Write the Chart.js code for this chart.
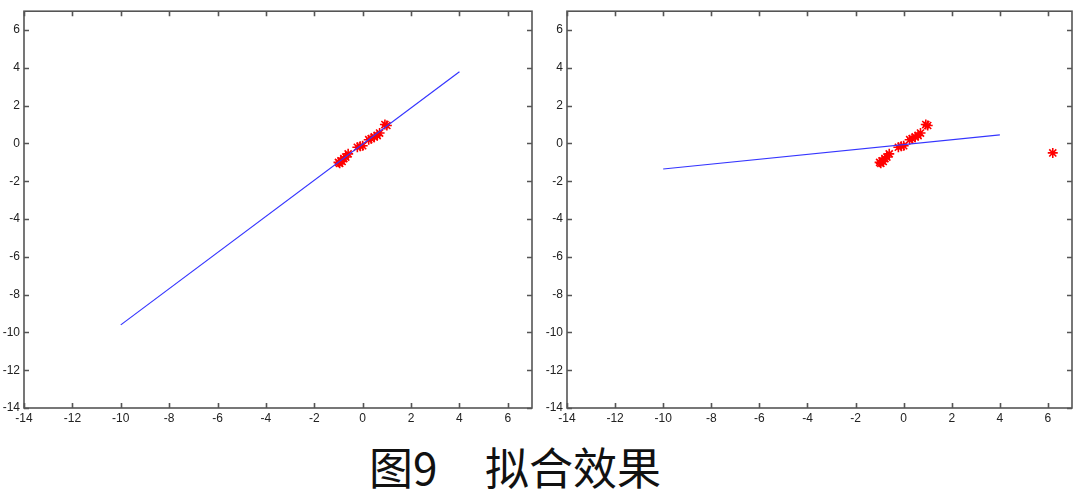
<!DOCTYPE html>
<html>
<head>
<meta charset="utf-8">
<script src="https://cdn.jsdelivr.net/npm/chart.js@4"></script>
<style>
  body { margin: 0; background: #fff; width: 1080px; height: 491px; overflow: hidden; position: relative; }
  .plot { position: absolute; top: 0; width: 540px; height: 430px; }
  #left-box { left: 0; }
  #right-box { left: 540px; }
  .caption { position: absolute; top: 444px; height: 44px; line-height: 44px;
    font-family: "Noto Sans CJK SC", sans-serif; font-size: 44px; color: #111; white-space: nowrap; }
</style>
</head>
<body>
<div class="plot" id="left-box"><canvas id="left-chart" width="540" height="430"></canvas></div>
<div class="plot" id="right-box"><canvas id="right-chart" width="540" height="430"></canvas></div>
<div class="caption" style="left:369px">图9</div>
<div class="caption" style="left:485px">拟合效果</div>

<script>
// ---------------------------------------------------------------
// Datos
// ---------------------------------------------------------------
const xTicks = [-14, -12, -10, -8, -6, -4, -2, 0, 2, 4, 6];
const yTicks = [-14, -12, -10, -8, -6, -4, -2, 0, 2, 4, 6];

// muestras (asteriscos rojos)
const sampleX = [-1.0, -0.95, -0.9, -0.85, -0.78, -0.7, -0.6, -0.22, -0.1, 0.0, 0.25, 0.35, 0.48, 0.6, 0.7, 0.92, 1.0];
const sampleY = [-1.0, -1.05, -0.92, -0.95, -0.8, -0.72, -0.55, -0.2, -0.15, -0.12, 0.2, 0.25, 0.35, 0.42, 0.55, 1.0, 0.95];

// punto atípico (solo en la figura derecha)
const outlierX = [6.2];
const outlierY = [-0.5];

// rectas ajustadas
const fitLeftX = [-10, 4];
const fitLeftY = [-9.6, 3.8];
const fitRightX = [-10, 4];
const fitRightY = [-1.35, 0.45];

// ---------------------------------------------------------------
// Marco con marcas hacia dentro (estilo MATLAB)
// ---------------------------------------------------------------
const framePlugin = {
  id: "frame",
  afterDraw(chart) {
    const { ctx, chartArea } = chart;
    const { left, right, top, bottom } = chartArea;
    const xs = chart.scales.x;
    const ys = chart.scales.y;
    ctx.save();
    ctx.strokeStyle = "#555";
    ctx.lineWidth = 1.6;
    ctx.strokeRect(left, top, right - left, bottom - top);
    ctx.beginPath();
    xTicks.forEach((v) => {
      const px = Math.round(xs.getPixelForValue(v)) + 0.5;
      ctx.moveTo(px, bottom); ctx.lineTo(px, bottom - 5);
      ctx.moveTo(px, top); ctx.lineTo(px, top + 5);
    });
    yTicks.forEach((v) => {
      const py = Math.round(ys.getPixelForValue(v)) + 0.5;
      ctx.moveTo(left, py); ctx.lineTo(left + 5, py);
      ctx.moveTo(right, py); ctx.lineTo(right - 5, py);
    });
    ctx.stroke();
    ctx.restore();
  },
};

const toPoints = (xs, ys) => xs.map((x, i) => ({ x: x, y: ys[i] }));

const makeChart = (canvasId, fitX, fitY, pointsX, pointsY, yAxisWidth) => {
  const ctx = document.getElementById(canvasId).getContext("2d");
  return new Chart(ctx, {
    type: "scatter",
    plugins: [framePlugin],
    data: {
      datasets: [
        {
          label: "ajuste",
          data: toPoints(fitX, fitY),
          showLine: true,
          borderColor: "#3535ff",
          borderWidth: 1.2,
          pointRadius: 0,
          fill: false,
        },
        {
          label: "muestras",
          data: toPoints(pointsX, pointsY),
          showLine: false,
          pointStyle: "star",
          pointRadius: 5,
          borderColor: "#ff0000",
          backgroundColor: "#ff0000",
          pointBorderWidth: 1.6,
        },
      ],
    },
    options: {
      responsive: false,
      animation: false,
      layout: { padding: { top: 10, right: 8, left: 0, bottom: 0 } },
      scales: {
        x: {
          type: "linear",
          min: -14,
          max: 7,
          grid: { display: false, drawTicks: false },
          border: { display: false },
          afterBuildTicks: (scale) => { scale.ticks = xTicks.map((v) => ({ value: v })); },
          afterFit: (scale) => { scale.height = 22; },
          ticks: {
            color: "#222",
            padding: 3,
            maxRotation: 0,
            autoSkip: false,
            font: { family: "Liberation Sans, Arial", size: 12 },
          },
        },
        y: {
          type: "linear",
          min: -14,
          max: 7,
          grid: { display: false, drawTicks: false },
          border: { display: false },
          afterBuildTicks: (scale) => { scale.ticks = yTicks.map((v) => ({ value: v })); },
          afterFit: (scale) => { scale.width = yAxisWidth; },
          ticks: {
            color: "#222",
            padding: 4,
            autoSkip: false,
            font: { family: "Liberation Sans, Arial", size: 12 },
          },
        },
      },
      plugins: {
        legend: { display: false },
        tooltip: { enabled: false },
      },
    },
  });
};

makeChart("left-chart", fitLeftX, fitLeftY, sampleX, sampleY, 24);
makeChart("right-chart", fitRightX, fitRightY, sampleX.concat(outlierX), sampleY.concat(outlierY), 27);
</script>
</body>
</html>
